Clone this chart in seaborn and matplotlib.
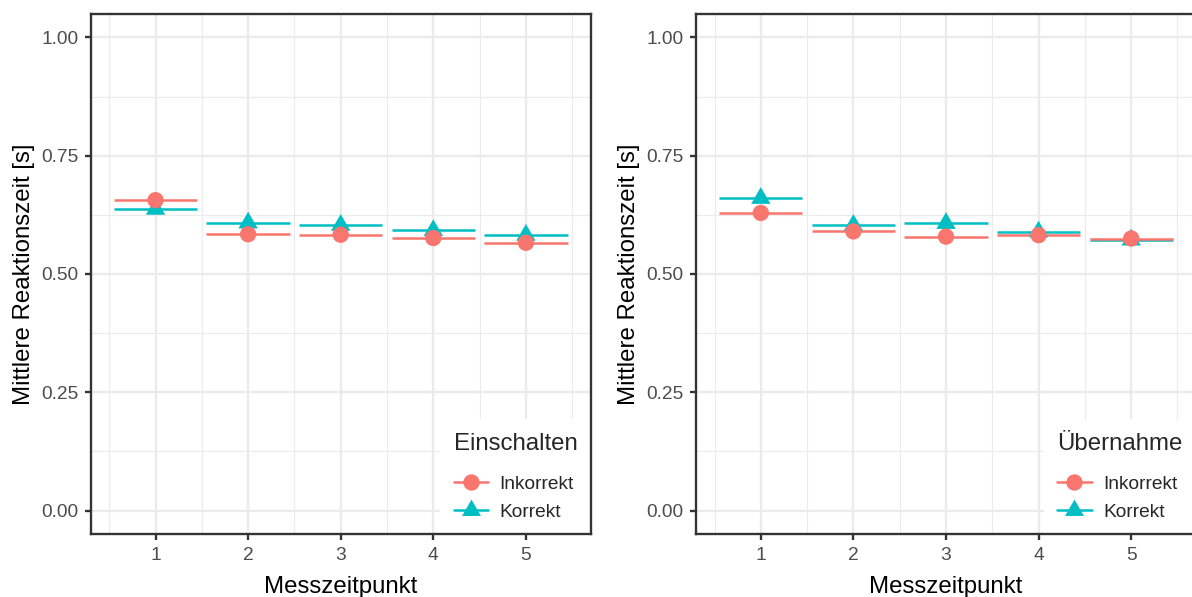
import numpy as np
import pandas as pd
import matplotlib
matplotlib.use("Agg")
import matplotlib.pyplot as plt
from matplotlib.lines import Line2D
from matplotlib.ticker import FixedLocator
import seaborn as sns

# Mean reaction times per measurement point
messzeitpunkt = [1, 2, 3, 4, 5]
einschalten_inkorrekt = [0.656, 0.584, 0.583, 0.576, 0.566]
einschalten_korrekt = [0.637, 0.608, 0.603, 0.592, 0.582]
uebernahme_inkorrekt = [0.629, 0.590, 0.579, 0.582, 0.575]
uebernahme_korrekt = [0.660, 0.603, 0.607, 0.589, 0.572]

y_ticks = [0.00, 0.25, 0.50, 0.75, 1.00]
y_ticklabels = ["0.00", "0.25", "0.50", "0.75", "1.00"]
antworten = ["Inkorrekt", "Korrekt"]

panels = [
    ("Einschalten", einschalten_inkorrekt, einschalten_korrekt),
    ("Übernahme", uebernahme_inkorrekt, uebernahme_korrekt),
]

sns.set_theme(style="white")
plt.rcParams["font.family"] = ["Liberation Sans", "DejaVu Sans"]

colors = {"Inkorrekt": "#F8766D", "Korrekt": "#00BFC4"}
# equilateral triangle centred on its centroid
tri = [(0, 1), (0.866, -0.5), (-0.866, -0.5), (0, 1)]
markers = {"Inkorrekt": "o", "Korrekt": tri}
sizes = {"Inkorrekt": 56, "Korrekt": 105}

dpi = 157
W, H = 1192, 597
fig = plt.figure(figsize=(W / dpi, H / dpi), dpi=dpi)

ax_w = 500 / W
ax_h = (534.3 - 13.7) / H
ax_b = (H - 534.3) / H
lefts = [90.7 / W, 696 / W]

grey20 = "#333333"
grey30 = "#4D4D4D"
grid_c = "#EBEBEB"
lw = 1.07

for (title, inkorrekt, korrekt), left in zip(panels, lefts):
    ax = fig.add_axes([left, ax_b, ax_w, ax_h])
    df = pd.DataFrame({
        "Messzeitpunkt": messzeitpunkt * 2,
        "Zeit": list(korrekt) + list(inkorrekt),
        "Antwort": ["Korrekt"] * 5 + ["Inkorrekt"] * 5,
    })

    # horizontal bars spanning each measurement point
    for name, vals in (("Korrekt", korrekt), ("Inkorrekt", inkorrekt)):
        x = np.array(messzeitpunkt, dtype=float)
        ax.hlines(vals, x - 0.45, x + 0.45, color=colors[name], lw=1.15, zorder=2)

    sns.scatterplot(data=df, x="Messzeitpunkt", y="Zeit", hue="Antwort",
                    style="Antwort", size="Antwort", hue_order=antworten,
                    palette=colors, markers=markers, sizes=sizes,
                    linewidth=0, legend=False, ax=ax, zorder=3)

    ax.set_xlim(0.3, 5.7)
    ax.set_ylim(-0.05, 1.05)
    ax.set_xticks(messzeitpunkt)
    ax.set_xticklabels([str(v) for v in messzeitpunkt])
    ax.set_yticks(y_ticks)
    ax.set_yticklabels(y_ticklabels)
    ax.xaxis.set_minor_locator(FixedLocator([0.5, 1.5, 2.5, 3.5, 4.5, 5.5]))
    ax.yaxis.set_minor_locator(FixedLocator([0.125, 0.375, 0.625, 0.875]))
    ax.grid(True, which="major", color=grid_c, lw=lw, zorder=0)
    ax.grid(True, which="minor", color=grid_c, lw=lw / 2, zorder=0)
    ax.set_axisbelow(True)
    ax.tick_params(which="major", length=2.75, width=lw, color=grey20,
                   labelsize=8.8, labelcolor=grey30, pad=3,
                   bottom=True, left=True)
    ax.tick_params(which="minor", length=0)
    for sp in ax.spines.values():
        sp.set_color(grey20)
        sp.set_linewidth(lw)
        sp.set_zorder(10)
    ax.set_xlabel("Messzeitpunkt", fontsize=11, color="black", labelpad=5.5)
    ax.set_ylabel("Mittlere Reaktionszeit [s]", fontsize=11, color="black",
                  labelpad=2.75)

    handles = []
    for name in antworten:
        handles.append(Line2D([0], [0], color=colors[name], lw=1.15,
                              marker=markers[name],
                              markersize=7.5 if name == "Inkorrekt" else 10,
                              markeredgewidth=0, label=name))
    leg = ax.legend(handles=handles, title=title, loc="lower right",
                    borderaxespad=0, frameon=True, fancybox=False,
                    fontsize=8.8, title_fontsize=11, alignment="left",
                    handlelength=1.8, handletextpad=0.6, labelspacing=0.55,
                    borderpad=0.7)
    leg._legend_box.sep = 9.5
    leg.get_frame().set_facecolor("white")
    leg.get_frame().set_edgecolor("none")
    leg.get_frame().set_alpha(1)
    leg.set_zorder(5)

fig.savefig("out.png", dpi=dpi)
